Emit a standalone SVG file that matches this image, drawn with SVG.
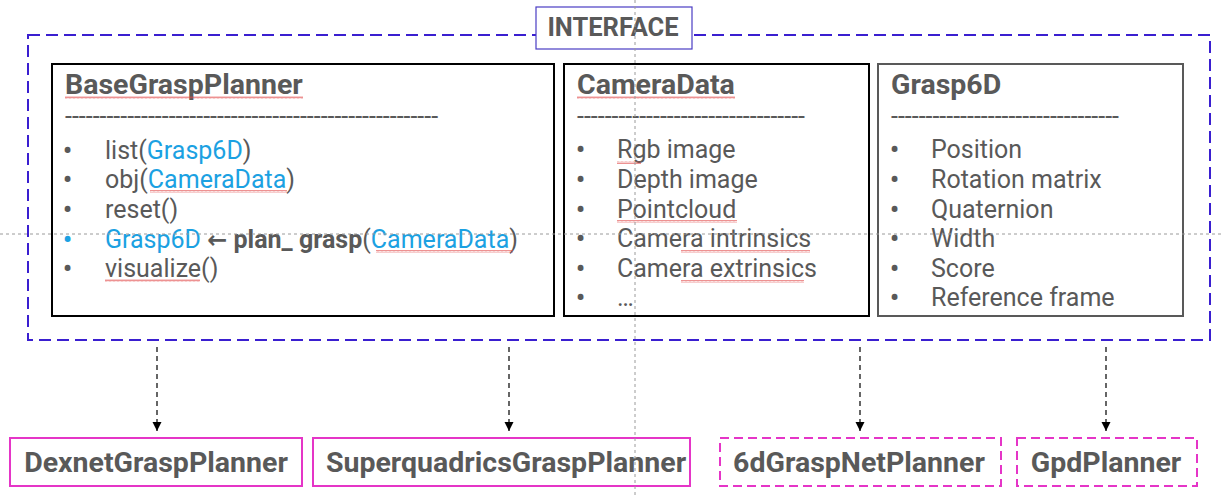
<svg xmlns="http://www.w3.org/2000/svg" width="1222" height="495" viewBox="0 0 1222 495">
<defs>
<style>
.t{font-family:Roboto,"Liberation Sans",sans-serif;fill:#595959;}
.title{font-size:28.5px;font-weight:bold;}
.item{font-size:25px;}
.bul{font-size:25px;font-weight:bold;}
.lbl{font-size:28.5px;font-weight:bold;text-anchor:middle;}
.b{fill:#1ba1e2;}
.cls{fill:#fff;stroke-width:2;}
.impl{fill:#fff;stroke:#e535c7;stroke-width:2;}
.dash{stroke-dasharray:9,5;}
.conn{stroke:#000;stroke-width:1.2;stroke-dasharray:5,4;fill:none;}
.guide{stroke:#9a9a9a;stroke-width:1;stroke-dasharray:3,3;fill:none;}
.sq{fill:url(#squig);}
</style>
<marker id="ah" viewBox="0 0 10 10" refX="10" refY="5" markerWidth="9" markerHeight="10" markerUnits="userSpaceOnUse" orient="auto">
<path d="M0,0 L10,5 L0,10 z" fill="#000"/>
</marker>
<pattern id="squig" width="4" height="3" patternUnits="userSpaceOnUse">
<path d="M0,2.5 L1,0.5 L2,2.5 L3,0.5 L4,2.5" stroke="#e04848" stroke-width="0.6" fill="none"/>
</pattern>
</defs>
<rect width="1222" height="495" fill="#fff"/>

<g id="interface">
<rect x="28" y="35" width="1182" height="305" fill="none" stroke="#3a1fd0" stroke-width="2" stroke-dasharray="12,6"/>
<rect x="536" y="7" width="156" height="42" fill="#fff" stroke="#4a3cc4" stroke-width="1.2"/>
<text class="t lbl" x="613" y="36" style="font-size:25.5px">INTERFACE</text>
</g>

<g id="BaseGraspPlanner">
<rect class="cls" x="52" y="64" width="502" height="252" stroke="#000"/>
<text class="t title" x="65" y="94">BaseGraspPlanner</text>
<rect class="sq" x="65" y="96" width="238" height="3"/>
<text class="t item" x="65" y="125">------------------------------------------------------</text>
<text class="t bul" x="63" y="159">•</text><text class="t item" x="105" y="159">list(<tspan class="b">Grasp6D</tspan>)</text>
<text class="t bul" x="63" y="188">•</text><text class="t item" x="105" y="188">obj(<tspan class="b">CameraData</tspan>)</text>
<rect class="sq" x="150" y="190" width="137" height="3"/>
<text class="t bul" x="63" y="218">•</text><text class="t item" x="105" y="218">reset()</text>
<text class="t bul b" x="63" y="248">•</text><text class="t item" x="105" y="248"><tspan class="b">Grasp6D</tspan> <tspan font-family="'DejaVu Sans',sans-serif" font-size="24" font-weight="bold">←</tspan> <tspan font-weight="bold">plan_ grasp</tspan>(<tspan class="b">CameraData</tspan>)</text>
<rect class="sq" x="376" y="250" width="137" height="3"/>
<text class="t bul" x="63" y="277">•</text><text class="t item" x="105" y="277">visualize()</text>
<rect class="sq" x="105" y="279" width="95" height="3"/>
</g>

<g id="CameraData">
<rect class="cls" x="564" y="64" width="305" height="252" stroke="#000"/>
<text class="t title" x="577" y="94">CameraData</text>
<rect class="sq" x="577" y="96" width="158" height="3"/>
<text class="t item" x="577" y="125">---------------------------------</text>
<text class="t bul" x="576" y="158">•</text><text class="t item" x="617" y="158">Rgb image</text>
<rect class="sq" x="617" y="161" width="24" height="3"/>
<text class="t bul" x="576" y="188">•</text><text class="t item" x="617" y="188">Depth image</text>
<text class="t bul" x="576" y="218">•</text><text class="t item" x="617" y="218">Pointcloud</text>
<rect class="sq" x="617" y="220" width="120" height="3"/>
<text class="t bul" x="576" y="247">•</text><text class="t item" x="617" y="247">Camera intrinsics</text>
<rect class="sq" x="681" y="250" width="129" height="3"/>
<text class="t bul" x="576" y="277">•</text><text class="t item" x="617" y="277">Camera extrinsics</text>
<rect class="sq" x="681" y="280" width="123" height="3"/>
<text class="t bul" x="576" y="306">•</text><text class="t item" x="617" y="306">…</text>
</g>

<g id="Grasp6D">
<rect class="cls" x="878" y="64" width="305" height="252" stroke="#595959"/>
<text class="t title" x="891" y="94">Grasp6D</text>
<text class="t item" x="891" y="125">---------------------------------</text>
<text class="t bul" x="890" y="158">•</text><text class="t item" x="931" y="158">Position</text>
<text class="t bul" x="890" y="188">•</text><text class="t item" x="931" y="188">Rotation matrix</text>
<text class="t bul" x="890" y="218">•</text><text class="t item" x="931" y="218">Quaternion</text>
<text class="t bul" x="890" y="247">•</text><text class="t item" x="931" y="247">Width</text>
<text class="t bul" x="890" y="277">•</text><text class="t item" x="931" y="277">Score</text>
<text class="t bul" x="890" y="306">•</text><text class="t item" x="931" y="306">Reference frame</text>
</g>

<g id="DexnetGraspPlanner">
<rect class="impl" x="10" y="438" width="292" height="48"/>
<text class="t lbl" x="156" y="472">DexnetGraspPlanner</text>
</g>
<g id="SuperquadricsGraspPlanner">
<rect class="impl" x="313" y="438" width="377" height="48"/>
<text class="t lbl" x="506" y="472">SuperquadricsGraspPlanner</text>
</g>
<g id="6dGraspNetPlanner">
<rect class="impl dash" x="720" y="438" width="281" height="48"/>
<text class="t lbl" x="859" y="472">6dGraspNetPlanner</text>
</g>
<g id="GpdPlanner">
<rect class="impl dash" x="1017" y="438" width="180" height="48"/>
<text class="t lbl" x="1106" y="472">GpdPlanner</text>
</g>

<g id="connectors">
<line class="conn" x1="157" y1="347" x2="157" y2="431" marker-end="url(#ah)"/>
<line class="conn" x1="509" y1="347" x2="509" y2="431" marker-end="url(#ah)"/>
<line class="conn" x1="860" y1="347" x2="860" y2="431" marker-end="url(#ah)"/>
<line class="conn" x1="1106" y1="347" x2="1106" y2="431" marker-end="url(#ah)"/>
</g>

<g id="guides">
<line class="guide" x1="635" y1="0" x2="635" y2="495"/>
<line class="guide" x1="0" y1="234" x2="1222" y2="234"/>
</g>
</svg>
